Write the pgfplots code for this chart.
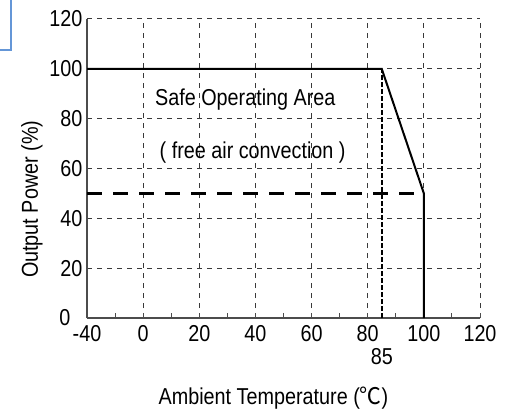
\documentclass[border=0pt]{standalone}
\usepackage{fontspec}
\setmainfont{Liberation Sans}[FakeStretch=0.86]
\newfontfamily\cjk{Noto Sans CJK SC}[FakeStretch=0.95]
\usepackage{pgfplots}
\pgfplotsset{compat=1.18}
\definecolor{boxblue}{RGB}{100,150,215}
\newcommand\fs{\fontsize{23bp}{27bp}\selectfont}
\begin{document}
\begin{tikzpicture}
\begin{axis}[
  scale only axis, width=393bp, height=299bp,
  xmin=0, xmax=7, ymin=0, ymax=120,
  axis lines*=left,
  axis line style={-, draw=gray!60!black, line width=1.2bp},
  xtick={0,1,2,3,4,5,6,7},
  xticklabels={-40,0,20,40,60,80,100,120},
  minor xtick={0.5,1.5,2.5,3.5,4.5,5.5,6.5},
  ytick={0,20,...,120},
  yticklabels={{0\kern12bp},20,40,60,80,100,120},
  ytick style={draw=none},
  tick align=inside,
  major tick length=5bp, minor tick length=5bp,
  xtick style={draw=gray!60!black, line width=1bp},
  grid=major,
  major grid style={dash pattern=on 5bp off 5bp, draw=gray!45!black, line width=1bp},
  /pgf/number format/assume math mode=true,
  tick label style={font=\fs},
  xticklabel style={yshift=-4bp},
  yticklabel style={xshift=-1bp},
  extra x ticks={5.25},
  extra x tick labels={85},
  extra x tick style={grid=none, major tick length=0pt, xticklabel style={yshift=-23bp}},
  xlabel={Ambient Temperature ({\cjk ℃})},
  xlabel style={yshift=-15bp, xshift=-10bp},
  ylabel={Output Power (\%)},
  ylabel style={at={(ticklabel cs:0.39)}, xshift=2bp},
  label style={font=\fs},
  clip=false,
]
\addplot[black, line width=2bp] coordinates {(0,100) (5.25,100) (6,50) (6,0)};
\addplot[black, line width=2.2bp, dash pattern=on 15bp off 11bp] coordinates {(0,50) (6,50)};
\addplot[black, line width=2.2bp, dash pattern=on 5bp off 2bp] coordinates {(5.25,0) (5.25,100)};
\node[font=\fs] at (axis cs:2.82,87.5) {Safe Operating Area};
\node[font=\fs] at (axis cs:2.95,66.5) {( free air convection )};
\end{axis}
\draw[boxblue, line width=2bp] ([xshift=-120bp,yshift=30bp]current axis.north west) rectangle ([xshift=-76bp,yshift=-31bp]current axis.north west);
\pgfresetboundingbox
\path[use as bounding box] ([xshift=-87bp,yshift=-92bp]current axis.south west) rectangle ([xshift=26bp,yshift=19bp]current axis.north east);
\end{tikzpicture}
\end{document}
